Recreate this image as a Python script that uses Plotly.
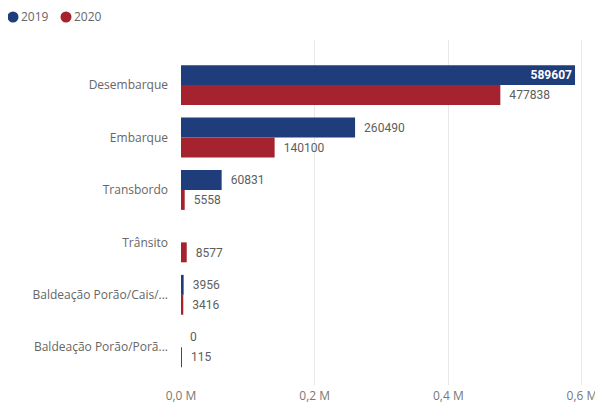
import plotly.graph_objects as go

# Data
categories = ["Desembarque", "Embarque", "Transbordo", "Trânsito",
              "Baldeação Porão/Cais/...", "Baldeação Porão/Porã..."]
values_2019 = [589607, 260490, 60831, None, 3956, 0]
values_2020 = [477838, 140100, 5558, 8577, 3416, 115]
tick_vals = [0, 200000, 400000, 600000]
tick_text = ["0,0 M", "0,2 M", "0,4 M", "0,6 M"]
series_names = ["2019", "2020"]

BLUE = "#1F3D7B"
RED = "#A4232F"
LABEL_GRAY = "#5E5E5E"
LABEL_FONT = dict(color=LABEL_GRAY, size=13, family="Roboto")


def label_of(v, inside=False):
    if v is None:
        return ""
    return str(v) if inside else "  " + str(v)


fig = go.Figure()

# 2019 bars: the biggest one gets its label inside, in white
inside_2019 = [v is not None and v > 500000 for v in values_2019]
fig.add_trace(go.Bar(
    y=categories, x=values_2019, orientation="h", name=series_names[0],
    marker=dict(color=BLUE, line=dict(width=0)),
    text=[label_of(v, i) for v, i in zip(values_2019, inside_2019)],
    textposition=["inside" if i else "outside" for i in inside_2019],
    insidetextanchor="end",
    insidetextfont=dict(color="white", size=13, family="Roboto", weight="bold"),
    outsidetextfont=LABEL_FONT,
    cliponaxis=False, hoverinfo="x+y",
))
fig.add_trace(go.Bar(
    y=categories, x=values_2020, orientation="h", name=series_names[1],
    marker=dict(color=RED, line=dict(width=0)),
    text=[label_of(v) for v in values_2020],
    textposition="outside",
    outsidetextfont=LABEL_FONT,
    cliponaxis=False, hoverinfo="x+y",
))

# legend drawn by hand: round markers with the year right next to them
legend_y = 1.0667
for name, color, cx, tx in zip(series_names, [BLUE, RED],
                               [-0.4088, -0.2798], [-0.392, -0.263]):
    fig.add_shape(type="circle", xref="paper", yref="paper",
                  xsizemode="pixel", ysizemode="pixel",
                  xanchor=cx, yanchor=legend_y, x0=-5.5, x1=5.5, y0=-5.5, y1=5.5,
                  fillcolor=color, line=dict(width=0))
    fig.add_annotation(text=name, xref="paper", yref="paper",
                       x=tx, y=legend_y, xanchor="left", yanchor="middle",
                       showarrow=False, borderpad=0,
                       font=dict(size=12, color="#666666", family="Open Sans"))

fig.update_layout(
    width=603, height=405,
    margin=dict(l=173, r=19, t=32, b=28, autoexpand=False),
    paper_bgcolor="white", plot_bgcolor="white",
    barmode="group", bargap=0.24, bargroupgap=0,
    font=dict(family="Open Sans", color="#777777", size=11),
    showlegend=False,
    uniformtext=dict(minsize=8, mode="show"),
)
fig.update_xaxes(
    range=[0, 615000], tickvals=tick_vals, ticktext=tick_text,
    showgrid=True, gridcolor="#E8E8E8", gridwidth=1, zeroline=False,
    showline=False, tickfont=dict(size=12, color="#777777"), ticklabelstandoff=2,
    automargin=False,
)
fig.update_yaxes(
    categoryorder="array", categoryarray=categories,
    range=[5.72, -0.86], showgrid=False, zeroline=False, showline=False,
    tickfont=dict(size=12, color="#666666"), ticklabelstandoff=12,
    automargin=False,
)

fig.write_html("out.html")
